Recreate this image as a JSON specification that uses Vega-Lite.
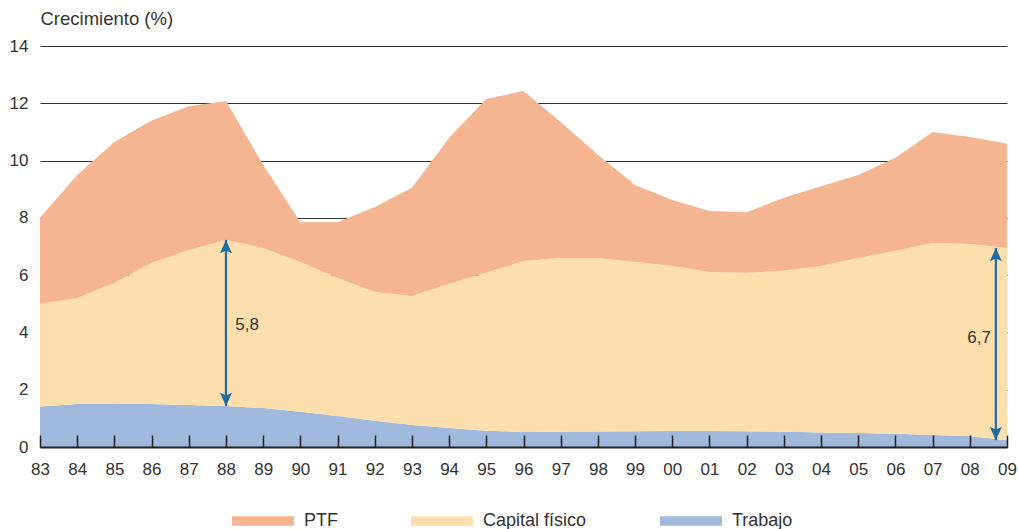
{
  "$schema": "https://vega.github.io/schema/vega-lite/v6.json",
  "width": 967,
  "height": 401,
  "autosize": "none",
  "padding": {"left": 40, "top": 46, "right": 11, "bottom": 82},
  "background": "white",
  "config": {"view": {"stroke": null}, "font": "Liberation Sans", "axis": {"labelOverlap": false}},
  "datasets": {
    "contribuciones": [
      {"año": 1983, "componente": "Trabajo", "orden": 1, "valor": 1.41},
      {"año": 1984, "componente": "Trabajo", "orden": 1, "valor": 1.5},
      {"año": 1985, "componente": "Trabajo", "orden": 1, "valor": 1.52},
      {"año": 1986, "componente": "Trabajo", "orden": 1, "valor": 1.5},
      {"año": 1987, "componente": "Trabajo", "orden": 1, "valor": 1.47},
      {"año": 1988, "componente": "Trabajo", "orden": 1, "valor": 1.43},
      {"año": 1989, "componente": "Trabajo", "orden": 1, "valor": 1.36},
      {"año": 1990, "componente": "Trabajo", "orden": 1, "valor": 1.23},
      {"año": 1991, "componente": "Trabajo", "orden": 1, "valor": 1.08},
      {"año": 1992, "componente": "Trabajo", "orden": 1, "valor": 0.92},
      {"año": 1993, "componente": "Trabajo", "orden": 1, "valor": 0.77},
      {"año": 1994, "componente": "Trabajo", "orden": 1, "valor": 0.66},
      {"año": 1995, "componente": "Trabajo", "orden": 1, "valor": 0.57},
      {"año": 1996, "componente": "Trabajo", "orden": 1, "valor": 0.52},
      {"año": 1997, "componente": "Trabajo", "orden": 1, "valor": 0.53},
      {"año": 1998, "componente": "Trabajo", "orden": 1, "valor": 0.54},
      {"año": 1999, "componente": "Trabajo", "orden": 1, "valor": 0.55},
      {"año": 2000, "componente": "Trabajo", "orden": 1, "valor": 0.56},
      {"año": 2001, "componente": "Trabajo", "orden": 1, "valor": 0.56},
      {"año": 2002, "componente": "Trabajo", "orden": 1, "valor": 0.55},
      {"año": 2003, "componente": "Trabajo", "orden": 1, "valor": 0.53},
      {"año": 2004, "componente": "Trabajo", "orden": 1, "valor": 0.51},
      {"año": 2005, "componente": "Trabajo", "orden": 1, "valor": 0.49},
      {"año": 2006, "componente": "Trabajo", "orden": 1, "valor": 0.46},
      {"año": 2007, "componente": "Trabajo", "orden": 1, "valor": 0.42},
      {"año": 2008, "componente": "Trabajo", "orden": 1, "valor": 0.38},
      {"año": 2009, "componente": "Trabajo", "orden": 1, "valor": 0.24},
      {"año": 1983, "componente": "Capital físico", "orden": 2, "valor": 3.59},
      {"año": 1984, "componente": "Capital físico", "orden": 2, "valor": 3.7},
      {"año": 1985, "componente": "Capital físico", "orden": 2, "valor": 4.21},
      {"año": 1986, "componente": "Capital físico", "orden": 2, "valor": 4.92},
      {"año": 1987, "componente": "Capital físico", "orden": 2, "valor": 5.41},
      {"año": 1988, "componente": "Capital físico", "orden": 2, "valor": 5.8},
      {"año": 1989, "componente": "Capital físico", "orden": 2, "valor": 5.59},
      {"año": 1990, "componente": "Capital físico", "orden": 2, "valor": 5.23},
      {"año": 1991, "componente": "Capital físico", "orden": 2, "valor": 4.82},
      {"año": 1992, "componente": "Capital físico", "orden": 2, "valor": 4.49},
      {"año": 1993, "componente": "Capital físico", "orden": 2, "valor": 4.5},
      {"año": 1994, "componente": "Capital físico", "orden": 2, "valor": 5.03},
      {"año": 1995, "componente": "Capital físico", "orden": 2, "valor": 5.51},
      {"año": 1996, "componente": "Capital físico", "orden": 2, "valor": 5.97},
      {"año": 1997, "componente": "Capital físico", "orden": 2, "valor": 6.07},
      {"año": 1998, "componente": "Capital físico", "orden": 2, "valor": 6.06},
      {"año": 1999, "componente": "Capital físico", "orden": 2, "valor": 5.91},
      {"año": 2000, "componente": "Capital físico", "orden": 2, "valor": 5.76},
      {"año": 2001, "componente": "Capital físico", "orden": 2, "valor": 5.55},
      {"año": 2002, "componente": "Capital físico", "orden": 2, "valor": 5.53},
      {"año": 2003, "componente": "Capital físico", "orden": 2, "valor": 5.62},
      {"año": 2004, "componente": "Capital físico", "orden": 2, "valor": 5.81},
      {"año": 2005, "componente": "Capital físico", "orden": 2, "valor": 6.11},
      {"año": 2006, "componente": "Capital físico", "orden": 2, "valor": 6.38},
      {"año": 2007, "componente": "Capital físico", "orden": 2, "valor": 6.7},
      {"año": 2008, "componente": "Capital físico", "orden": 2, "valor": 6.71},
      {"año": 2009, "componente": "Capital físico", "orden": 2, "valor": 6.71},
      {"año": 1983, "componente": "PTF", "orden": 3, "valor": 3.0},
      {"año": 1984, "componente": "PTF", "orden": 3, "valor": 4.3},
      {"año": 1985, "componente": "PTF", "orden": 3, "valor": 4.92},
      {"año": 1986, "componente": "PTF", "orden": 3, "valor": 4.98},
      {"año": 1987, "componente": "PTF", "orden": 3, "valor": 5.02},
      {"año": 1988, "componente": "PTF", "orden": 3, "valor": 4.85},
      {"año": 1989, "componente": "PTF", "orden": 3, "valor": 2.9},
      {"año": 1990, "componente": "PTF", "orden": 3, "valor": 1.39},
      {"año": 1991, "componente": "PTF", "orden": 3, "valor": 1.95},
      {"año": 1992, "componente": "PTF", "orden": 3, "valor": 2.97},
      {"año": 1993, "componente": "PTF", "orden": 3, "valor": 3.78},
      {"año": 1994, "componente": "PTF", "orden": 3, "valor": 5.11},
      {"año": 1995, "componente": "PTF", "orden": 3, "valor": 6.07},
      {"año": 1996, "componente": "PTF", "orden": 3, "valor": 5.94},
      {"año": 1997, "componente": "PTF", "orden": 3, "valor": 4.75},
      {"año": 1998, "componente": "PTF", "orden": 3, "valor": 3.6},
      {"año": 1999, "componente": "PTF", "orden": 3, "valor": 2.69},
      {"año": 2000, "componente": "PTF", "orden": 3, "valor": 2.3},
      {"año": 2001, "componente": "PTF", "orden": 3, "valor": 2.13},
      {"año": 2002, "componente": "PTF", "orden": 3, "valor": 2.12},
      {"año": 2003, "componente": "PTF", "orden": 3, "valor": 2.55},
      {"año": 2004, "componente": "PTF", "orden": 3, "valor": 2.78},
      {"año": 2005, "componente": "PTF", "orden": 3, "valor": 2.9},
      {"año": 2006, "componente": "PTF", "orden": 3, "valor": 3.26},
      {"año": 2007, "componente": "PTF", "orden": 3, "valor": 3.88},
      {"año": 2008, "componente": "PTF", "orden": 3, "valor": 3.73},
      {"año": 2009, "componente": "PTF", "orden": 3, "valor": 3.65}
    ],
    "flechas": [
      {"año": 1988, "desde": 1.43, "hasta": 7.23, "etiqueta": "5,8", "xe": 1988.57, "ye": 4.26},
      {"año": 2008.7, "desde": 0.24, "hasta": 6.95, "etiqueta": "6,7", "xe": 2008.25, "ye": 3.8}
    ]
  },
  "layer": [
    {
      "data": {"name": "contribuciones"},
      "mark": {"type": "area", "interpolate": "linear"},
      "encoding": {
        "x": {
          "field": "año",
          "type": "quantitative",
          "scale": {"domain": [1983, 2009], "nice": false, "zero": false},
          "axis": {
            "title": null,
            "values": [1983, 1984, 1985, 1986, 1987, 1988, 1989, 1990, 1991, 1992, 1993, 1994, 1995, 1996, 1997, 1998, 1999, 2000, 2001, 2002, 2003, 2004, 2005, 2006, 2007, 2008, 2009],
            "tickCount": 27,
            "labelExpr": "substring(toString(datum.value), 2)",
            "grid": false,
            "domain": true,
            "domainColor": "#222",
            "domainWidth": 2,
            "ticks": true,
            "tickSize": -12,
            "tickColor": "#222",
            "tickWidth": 1.5,
            "labelPadding": 26,
            "labelFontSize": 17,
            "labelColor": "#333",
            "labelFlush": false,
            "labelOverlap": false,
            "labelBound": false,
            "zindex": 1
          }
        },
        "y": {
          "field": "valor",
          "type": "quantitative",
          "stack": "zero",
          "scale": {"domain": [0, 14], "nice": false},
          "axis": {
            "title": "Crecimiento (%)",
            "titleAngle": 0,
            "titleAlign": "left",
            "titleBaseline": "middle",
            "titleX": 0,
            "titleY": -28,
            "titleFontSize": 18.5,
            "titleFontWeight": "normal",
            "titleColor": "#333",
            "values": [0, 2, 4, 6, 8, 10, 12, 14],
            "domain": false,
            "ticks": false,
            "grid": true,
            "gridColor": "#333",
            "gridWidth": 1,
            "labelPadding": 12,
            "labelFontSize": 17,
            "labelColor": "#333"
          }
        },
        "color": {
          "field": "componente",
          "type": "nominal",
          "scale": {
            "domain": ["PTF", "Capital físico", "Trabajo"],
            "range": ["#F5B590", "#FDDFAD", "#A0B9DC"]
          },
          "legend": {
            "orient": "none",
            "legendX": 192,
            "legendY": 444,
            "direction": "horizontal",
            "title": null,
            "symbolType": "M-1,-0.155H1V0.155H-1Z",
            "symbolSize": 3844,
            "symbolStrokeWidth": 0,
            "symbolOpacity": 1,
            "labelFontSize": 18,
            "labelColor": "#333",
            "labelOffset": 10,
            "columnPadding": 73
          }
        },
        "order": {"field": "orden", "type": "quantitative", "sort": "ascending"}
      }
    },
    {
      "data": {"name": "flechas"},
      "mark": {"type": "rule", "color": "#1F6AA5", "strokeWidth": 2.2},
      "encoding": {
        "x": {"field": "año", "type": "quantitative"},
        "y": {"field": "desde", "type": "quantitative"},
        "y2": {"field": "hasta"}
      }
    },
    {
      "data": {"name": "flechas"},
      "mark": {"type": "point", "shape": "M0,0L-0.45,1L0,0.8L0.45,1Z", "filled": true, "size": 700, "color": "#1F6AA5", "opacity": 1, "strokeWidth": 0},
      "encoding": {
        "x": {"field": "año", "type": "quantitative"},
        "y": {"field": "hasta", "type": "quantitative"}
      }
    },
    {
      "data": {"name": "flechas"},
      "mark": {"type": "point", "shape": "M0,0L-0.45,-1L0,-0.8L0.45,-1Z", "filled": true, "size": 700, "color": "#1F6AA5", "opacity": 1, "strokeWidth": 0},
      "encoding": {
        "x": {"field": "año", "type": "quantitative"},
        "y": {"field": "desde", "type": "quantitative"}
      }
    },
    {
      "data": {"name": "flechas"},
      "mark": {"type": "text", "fontSize": 17, "color": "#333", "align": "center", "baseline": "middle"},
      "encoding": {
        "x": {"field": "xe", "type": "quantitative"},
        "y": {"field": "ye", "type": "quantitative"},
        "text": {"field": "etiqueta"}
      }
    }
  ]
}
